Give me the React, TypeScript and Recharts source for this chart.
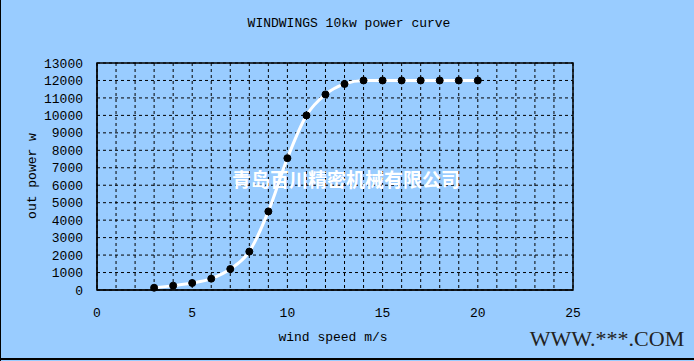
import {
  LineChart,
  Line,
  XAxis,
  YAxis,
  CartesianGrid,
  ReferenceArea,
} from 'recharts'

// wind speed (m/s) and output power (w)
const windSpeed = [3, 4, 5, 6, 7, 8, 9, 10, 11, 12, 13, 14, 15, 16, 17, 18, 19, 20]
const outPower = [130, 250, 400, 650, 1200, 2200, 4500, 7550, 10000, 11200, 11800, 12000, 12000, 12000, 12000, 12000, 12000, 12000]

const xTicks = [0, 1, 2, 3, 4, 5, 6, 7, 8, 9, 10, 11, 12, 13, 14, 15, 16, 17, 18, 19, 20, 21, 22, 23, 24, 25]
const yTicks = [0, 1000, 2000, 3000, 4000, 5000, 6000, 7000, 8000, 9000, 10000, 11000, 12000, 13000]

const title = 'WINDWINGS 10kw power curve'
const xTitle = 'wind speed m/s'
const yTitle = 'out power w'
const watermarkCn = '青岛百川精密机械有限公司'
const watermarkUrl = 'WWW.***.COM'

const data = windSpeed.map((speed, i) => ({ speed, power: outPower[i] }))

const monoFont = '"Liberation Mono", "DejaVu Sans Mono", monospace'

export default function App() {
  return (
    <div
      style={{
        position: 'absolute',
        left: 0,
        top: 0,
        width: 694,
        height: 361,
        background: '#99CCFF',
        overflow: 'hidden',
        fontFamily: monoFont,
      }}
    >
      {/* left and bottom frame lines */}
      <div style={{ position: 'absolute', left: 0, top: 0, width: 1, height: 361, background: '#000' }} />
      <div style={{ position: 'absolute', left: 0, top: 358, width: 694, height: 2, background: '#000' }} />

      <div
        style={{
          position: 'absolute',
          left: 0,
          width: 694,
          top: 16,
          textAlign: 'center',
          fontSize: 13,
          color: '#000',
          paddingLeft: 2,
        }}
      >
        {title}
      </div>

      <div
        style={{
          position: 'absolute',
          left: 32,
          top: 176,
          transform: 'translate(-50%, -50%) rotate(-90deg)',
          fontSize: 13,
          whiteSpace: 'nowrap',
          color: '#000',
        }}
      >
        {yTitle}
      </div>

      <div
        style={{
          position: 'absolute',
          left: 333,
          top: 337,
          transform: 'translate(-50%, -50%)',
          fontSize: 13,
          whiteSpace: 'nowrap',
          color: '#000',
        }}
      >
        {xTitle}
      </div>

      <div
        style={{
          position: 'absolute',
          left: 607,
          top: 339,
          transform: 'translate(-50%, -50%)',
          fontFamily: '"Liberation Serif", serif',
          fontSize: 22,
          color: '#222',
          whiteSpace: 'nowrap',
        }}
      >
        {watermarkUrl}
      </div>

      <div style={{ position: 'absolute', left: 0, top: 0 }}>
        <LineChart
          width={694}
          height={361}
          data={data}
          margin={{ top: 63, right: 121, bottom: 41, left: 0 }}
        >
          <CartesianGrid stroke="#000" strokeDasharray="3 3" strokeWidth={1} />
          <XAxis
            dataKey="speed"
            type="number"
            domain={[0, 25]}
            ticks={xTicks}
            interval={0}
            height={30}
            tickSize={0}
            tickMargin={18}
            tickLine={false}
            axisLine={{ stroke: '#000' }}
            tickFormatter={(v) => (v % 5 === 0 ? String(v) : '')}
            tick={{ fontSize: 13, fill: '#000', fontFamily: monoFont }}
          />
          <YAxis
            type="number"
            domain={[0, 13000]}
            ticks={yTicks}
            interval={0}
            width={97}
            tickSize={0}
            tickMargin={14}
            tickLine={false}
            axisLine={{ stroke: '#000' }}
            tick={{ fontSize: 13, fill: '#000', fontFamily: monoFont }}
          />
          <ReferenceArea
            x1={0}
            x2={25}
            y1={0}
            y2={13000}
            fill="none"
            fillOpacity={0}
            stroke="#000"
            strokeWidth={1.5}
          />
          <Line
            type="monotone"
            dataKey="power"
            stroke="#fff"
            strokeWidth={3}
            dot={{ r: 3.5, fill: '#000', stroke: '#000', strokeWidth: 1 }}
            activeDot={false}
            isAnimationActive={false}
          />
        </LineChart>
      </div>

      {/* company watermark, white over the grid */}
      <div
        style={{
          position: 'absolute',
          left: 346,
          top: 178,
          transform: 'translate(-50%, -50%)',
          fontFamily: '"Noto Sans CJK SC", sans-serif',
          fontSize: 19,
          fontWeight: 700,
          color: '#fff',
          whiteSpace: 'nowrap',
          pointerEvents: 'none',
        }}
      >
        {watermarkCn}
      </div>
    </div>
  )
}
